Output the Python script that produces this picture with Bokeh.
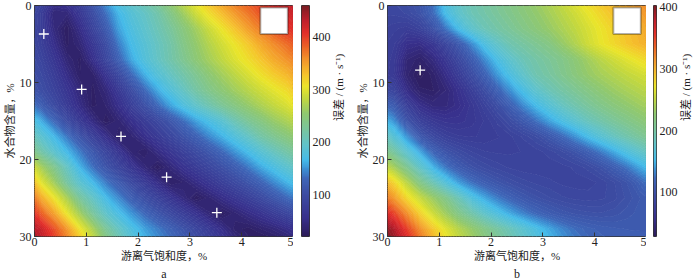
import math
import numpy as np
from bokeh.plotting import figure
from bokeh.models import LinearColorMapper, Range1d, FixedTicker, BoxAnnotation, Title
from bokeh.layouts import row
from bokeh.embed import file_html
from bokeh.resources import INLINE

# ---------------- data ----------------
# interior sample positions of the error grid
x_centers = [0.125, 0.375, 0.625, 0.875, 1.125, 1.375, 1.625, 1.875, 2.125, 2.375,
             2.625, 2.875, 3.125, 3.375, 3.625, 3.875, 4.125, 4.375, 4.625, 4.875]
y_centers = [1, 3, 5, 7, 9, 11, 13, 15, 17, 19, 21, 23, 25, 27, 29]
x_edges = [0, 5]
y_edges = [0, 30]

# panel a: error (m/s), one row per y_center (top to bottom)
err_a = [
    [78, 40, 42, 68, 100, 134, 164, 184, 198, 215, 238, 263, 290, 313, 334, 355, 372, 390, 405, 418],
    [78, 45, 26, 52, 85, 118, 155, 176, 192, 208, 225, 245, 265, 288, 308, 330, 352, 370, 390, 405],
    [80, 55, 28, 40, 68, 100, 140, 168, 185, 201, 217, 238, 256, 275, 292, 308, 326, 346, 362, 378],
    [88, 66, 40, 28, 55, 90, 125, 158, 180, 198, 215, 232, 250, 266, 282, 298, 312, 328, 345, 358],
    [95, 76, 52, 30, 32, 62, 95, 130, 160, 182, 200, 216, 232, 250, 265, 280, 295, 310, 324, 336],
    [102, 85, 64, 42, 28, 42, 70, 100, 130, 158, 180, 200, 220, 236, 250, 264, 277, 290, 302, 314],
    [122, 98, 74, 50, 28, 35, 55, 80, 105, 130, 155, 176, 195, 212, 228, 242, 256, 270, 283, 295],
    [160, 130, 100, 72, 48, 26, 38, 56, 75, 93, 112, 133, 155, 172, 188, 210, 228, 242, 258, 270],
    [190, 165, 138, 110, 82, 55, 30, 38, 55, 72, 90, 108, 125, 145, 162, 180, 198, 218, 232, 245],
    [218, 192, 166, 140, 115, 90, 65, 38, 30, 48, 65, 82, 98, 113, 130, 150, 168, 186, 203, 218],
    [268, 235, 200, 163, 135, 110, 88, 65, 42, 26, 42, 60, 75, 90, 105, 120, 138, 158, 174, 190],
    [302, 265, 222, 190, 166, 140, 118, 96, 75, 52, 30, 35, 50, 65, 80, 95, 110, 126, 145, 162],
    [345, 308, 270, 225, 198, 168, 145, 122, 103, 85, 65, 45, 26, 38, 52, 66, 80, 96, 113, 130],
    [385, 350, 305, 265, 225, 195, 170, 150, 130, 112, 95, 78, 60, 40, 27, 38, 50, 62, 76, 90],
    [425, 392, 355, 308, 270, 228, 200, 175, 155, 140, 125, 108, 90, 72, 52, 32, 28, 35, 42, 52],
]
# panel a border readings: top (y=0) and bottom (y=30) rows at x = 0, x_centers..., 5
err_a_top = [95, 85, 52, 56, 78, 110, 145, 175, 193, 208, 226, 250, 276, 302, 325, 346, 366, 382, 398, 412, 424, 428]
err_a_bottom = [440, 432, 400, 365, 322, 282, 240, 210, 183, 162, 146, 132, 116, 98, 80, 62, 42, 30, 26, 32, 40, 48]
# left (x=0) and right (x=5) columns at y_centers
err_a_left = [90, 88, 90, 95, 100, 108, 135, 175, 205, 235, 290, 330, 370, 405, 435]
err_a_right = [425, 410, 385, 365, 345, 325, 305, 278, 252, 225, 198, 170, 138, 98, 58]

# panel b: error (m/s)
err_b = [
    [88, 92, 102, 122, 155, 175, 188, 196, 204, 212, 220, 228, 238, 248, 258, 270, 282, 293, 302, 310],
    [80, 76, 84, 102, 128, 155, 175, 188, 197, 205, 214, 222, 231, 241, 251, 262, 273, 284, 293, 301],
    [75, 58, 55, 68, 88, 110, 135, 160, 178, 192, 200, 208, 216, 230, 243, 258, 270, 280, 290, 298],
    [72, 45, 38, 50, 68, 90, 112, 135, 157, 175, 188, 197, 205, 213, 224, 236, 248, 258, 267, 276],
    [70, 42, 30, 38, 55, 75, 96, 117, 140, 160, 177, 192, 200, 210, 220, 230, 238, 245, 252, 258],
    [85, 55, 38, 36, 45, 60, 78, 97, 118, 138, 158, 175, 188, 198, 207, 216, 225, 233, 240, 246],
    [112, 80, 58, 48, 48, 56, 68, 82, 98, 116, 135, 153, 168, 182, 193, 203, 212, 220, 227, 234],
    [138, 105, 82, 70, 64, 64, 68, 75, 84, 96, 110, 126, 143, 158, 172, 185, 195, 204, 212, 220],
    [168, 138, 110, 92, 80, 75, 74, 75, 78, 82, 88, 96, 108, 122, 138, 155, 170, 183, 194, 204],
    [200, 172, 145, 120, 104, 94, 87, 83, 82, 82, 83, 85, 89, 95, 104, 116, 130, 146, 162, 176],
    [238, 208, 178, 150, 128, 112, 101, 94, 89, 86, 84, 84, 84, 85, 88, 93, 102, 114, 128, 145],
    [282, 248, 215, 190, 165, 142, 126, 114, 105, 98, 93, 90, 88, 86, 85, 85, 88, 95, 104, 118],
    [312, 280, 255, 233, 212, 188, 163, 145, 130, 118, 108, 101, 96, 92, 90, 89, 90, 94, 101, 108],
    [350, 318, 285, 258, 235, 213, 195, 176, 160, 145, 132, 121, 113, 107, 103, 101, 100, 102, 106, 110],
    [385, 352, 318, 290, 266, 246, 230, 214, 200, 186, 172, 158, 145, 133, 124, 118, 115, 113, 112, 112],
]
err_b_top = [90, 90, 95, 104, 125, 160, 178, 190, 198, 206, 214, 222, 231, 241, 252, 264, 276, 288, 298, 307, 314, 318]
err_b_bottom = [400, 392, 362, 328, 298, 272, 252, 235, 219, 205, 191, 177, 163, 150, 138, 128, 121, 117, 115, 114, 113, 113]
err_b_left = [88, 82, 78, 76, 75, 90, 120, 148, 180, 210, 250, 295, 325, 362, 395]
err_b_right = [314, 305, 302, 280, 261, 249, 237, 224, 209, 183, 153, 126, 112, 112, 112]

# best-fit markers (+)
mark_a_x = [0.18, 0.91, 1.67, 2.55, 3.52]
mark_a_y = [3.7, 10.9, 17.0, 22.3, 26.9]
mark_b_x = [0.63]
mark_b_y = [8.4]

x_ticks = [0, 1, 2, 3, 4, 5]
y_ticks = [0, 10, 20, 30]
cbar_ticks = [100, 200, 300, 400]
cbar_a_range = [20, 460]
cbar_b_range = [28, 403]

x_label = "游离气饱和度，%"
y_label = "水合物含量，%"
c_label = "误差 / (m · s⁻¹)"

# ---------------- styling ----------------
SERIF = "'Liberation Serif', 'Noto Sans CJK SC'"
TXT = "#222222"
N_LEVELS = 90
anchors = [
    (0.00, "#2c1c5a"), (0.08, "#38308c"), (0.19, "#3d4fa5"), (0.25, "#3e66b8"),
    (0.29, "#3c8fd3"), (0.33, "#45bbe9"), (0.40, "#62c3c8"), (0.46, "#78c5a0"),
    (0.53, "#8fc870"), (0.60, "#c4d83e"), (0.65, "#ebe52b"), (0.70, "#f5c52c"),
    (0.76, "#f39a2c"), (0.82, "#ec6526"), (0.88, "#e3302a"), (0.94, "#bd1e2c"),
    (1.00, "#7a1c22"),
]


def colors_at(t):
    ts = np.array([a[0] for a in anchors])
    rgb = np.array([[int(c[i:i + 2], 16) for i in (1, 3, 5)] for _, c in anchors], dtype=float)
    chans = [np.interp(t, ts, rgb[:, k]) for k in range(3)]
    return ["#%02x%02x%02x" % (int(round(r)), int(round(g)), int(round(b)))
            for r, g, b in zip(*chans)]


PALETTE = colors_at(np.linspace(0, 1, 256))


def full_grid(inner, top, bottom, left, right):
    rows = [top]
    for j, r in enumerate(inner):
        rows.append([left[j]] + r + [right[j]])
    rows.append(bottom)
    return rows


def style_axis(ax, label, label_standoff, axis_label_standoff):
    ax.axis_label = label
    ax.axis_label_text_font = SERIF
    ax.axis_label_text_font_size = "11px"
    ax.axis_label_text_font_style = "normal"
    ax.axis_label_text_color = TXT
    ax.axis_label_standoff = axis_label_standoff
    ax.major_label_text_font = SERIF
    ax.major_label_text_font_size = "12px"
    ax.major_label_text_color = TXT
    ax.major_label_standoff = label_standoff
    ax.major_tick_in = 4
    ax.major_tick_out = 0
    ax.major_tick_line_color = "#333333"
    ax.minor_tick_line_color = None
    ax.axis_line_color = None


def heat_panel(grid, lo, hi, mk_x, mk_y, letter):
    p = figure(width=293, height=280, x_range=Range1d(x_ticks[0], x_ticks[-1]),
               y_range=Range1d(-y_ticks[-1], -y_ticks[0]),
               output_backend="svg", toolbar_location=None,
               min_border_left=28, min_border_right=0, min_border_top=5, min_border_bottom=40)
    xs = [x_edges[0]] + x_centers + [x_edges[1]]
    ys = [y_edges[0]] + y_centers + [y_edges[1]]
    # plot depth downward as negative y; ascending order for contouring
    y_plot = [-v for v in ys][::-1]
    z = np.array(grid[::-1], dtype=float)
    levels = np.linspace(lo, hi, N_LEVELS)
    n = len(levels)
    fills = colors_at((np.arange(n - 1) + 0.5) / (n - 1))
    lines = colors_at(np.arange(n) / (n - 1))
    p.contour(xs, y_plot, z, levels, fill_color=fills, line_color=lines, line_width=1.0)
    p.scatter(x=mk_x, y=[-v for v in mk_y], marker="cross", size=10,
              line_color="white", line_width=1.3)
    p.add_layout(BoxAnnotation(left=4.36, right=4.89, top=-0.25, bottom=-3.7,
                               fill_color="white", fill_alpha=1.0,
                               line_color="black", line_width=2))
    p.xaxis.ticker = FixedTicker(ticks=x_ticks)
    p.yaxis.ticker = FixedTicker(ticks=[-t for t in y_ticks])
    p.yaxis.major_label_overrides = {-t: str(t) for t in y_ticks}
    style_axis(p.xaxis[0], x_label, 1, 1)
    style_axis(p.yaxis[0], y_label, 3, 1)
    p.grid.visible = False
    p.outline_line_color = "#333333"
    p.outline_line_width = 1
    p.background_fill_color = "white"
    p.border_fill_color = "white"
    p.add_layout(Title(text=letter, align="center", text_font=SERIF, text_font_size="12px",
                       text_font_style="normal", text_color=TXT, standoff=0, offset=0), "below")
    return p


def cbar_fig(lo, hi, width, left_b, right_b):
    c = figure(width=width, height=280, x_range=Range1d(0, 1), y_range=Range1d(lo, hi),
               output_backend="svg", toolbar_location=None,
               x_axis_location=None, y_axis_location="right",
               min_border_left=left_b, min_border_right=right_b,
               min_border_top=5, min_border_bottom=40)
    mapper = LinearColorMapper(palette=PALETTE, low=lo, high=hi)
    grad = np.linspace(lo, hi, 256).reshape(-1, 1)
    c.image(image=[grad], x=0, y=lo, dw=1, dh=hi - lo, color_mapper=mapper)
    ax = c.yaxis[0]
    ax.ticker = FixedTicker(ticks=cbar_ticks)
    style_axis(ax, c_label, 3, 5)
    ax.major_tick_line_color = None
    if "axis_label_orientation" in ax.properties():
        ax.axis_label_orientation = math.pi / 2
    c.grid.visible = False
    c.outline_line_color = "#333333"
    c.outline_line_width = 1
    c.border_fill_color = "white"
    return c


grid_a = full_grid(err_a, err_a_top, err_a_bottom, err_a_left, err_a_right)
grid_b = full_grid(err_b, err_b_top, err_b_bottom, err_b_left, err_b_right)

pa = heat_panel(grid_a, cbar_a_range[0], cbar_a_range[1], mark_a_x, mark_a_y, "a")
ca = cbar_fig(cbar_a_range[0], cbar_a_range[1], 60, 8, 43)
pb = heat_panel(grid_b, cbar_b_range[0], cbar_b_range[1], mark_b_x, mark_b_y, "b")
cb = cbar_fig(cbar_b_range[0], cbar_b_range[1], 54, 7, 38)

layout = row(pa, ca, pb, cb)
open("out.html", "w").write(file_html(layout, INLINE))
